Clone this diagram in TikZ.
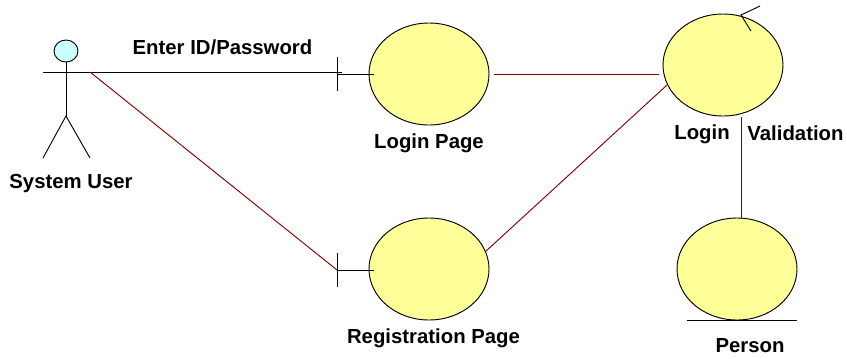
\documentclass[tikz,border=0pt]{standalone}
\usepackage{fontspec}
\setmainfont{Liberation Sans}
\usetikzlibrary{shapes.geometric}
\definecolor{boxyellow}{RGB}{255,255,153}
\definecolor{headcyan}{RGB}{204,255,255}
\definecolor{linkred}{RGB}{128,0,0}
\begin{document}
\begin{tikzpicture}[x=0.75pt,y=-0.75pt,line width=0.7pt,font=\bfseries\fontsize{15.25}{18}\selectfont,
  bubble/.style={draw,ellipse,fill=boxyellow,inner sep=0pt,minimum width=90pt,minimum height=76.5pt},
  link/.style={draw=linkred},
  lbl/.style={inner sep=0pt}]
\useasboundingbox (0,0) rectangle (847,358);

\coordinate (Neck) at (66,62);
\coordinate (Hip) at (66,116);
\coordinate (ArmL) at (43,72);
\coordinate (ArmR) at (90,72);
\coordinate (FootL) at (43,158);
\coordinate (FootR) at (90,158);
\coordinate (LoginEnd) at (342,72);
\coordinate (LoginT) at (337,74);
\coordinate (LoginTa) at (337,57);
\coordinate (LoginTb) at (337,91);
\coordinate (LoginIn) at (374,74);
\coordinate (RegT) at (337,270);
\coordinate (RegTa) at (337,253);
\coordinate (RegTb) at (337,287);
\coordinate (RegIn) at (374,270);
\coordinate (LoginOut) at (494,74);
\coordinate (ValIn) at (659,74);
\coordinate (ValIn2) at (667,85);
\coordinate (RegOut) at (485,252);
\coordinate (ValOut) at (741,117);
\coordinate (PersonIn) at (741,218);
\coordinate (LineA) at (687,320);
\coordinate (LineB) at (797,320);
\coordinate (Tip) at (741,15);
\coordinate (TipA) at (760,6);
\coordinate (TipB) at (751,31);

\node[draw,ellipse,fill=headcyan,inner sep=0pt,minimum width=18pt,minimum height=16.5pt] (Head) at (66,51) {};
\node[bubble] (LoginPage) at (429,74) {};
\node[bubble] (RegPage) at (429,269) {};
\node[bubble] (Validation) at (723,65) {};
\node[bubble] (Person) at (737,269) {};

\draw (Head) -- (Hip);
\draw (ArmL) -- (ArmR);
\draw (FootL) -- (Hip) -- (FootR);

\draw (ArmR) -- (LoginEnd);
\draw[link] (ArmR) -- (RegT);
\draw (LoginTa) -- (LoginTb);
\draw (LoginT) -- (LoginIn);
\draw (RegTa) -- (RegTb);
\draw (RegT) -- (RegIn);
\draw[link] (LoginOut) -- (ValIn);
\draw[link] (RegOut) -- (ValIn2);
\draw[link] (ValOut) -- (PersonIn);
\draw (LineA) -- (LineB);
\draw (TipA) -- (Tip) -- (TipB);

\node[lbl] (EnterLbl) at (222.5,47.5) {Enter ID/Password};
\node[lbl] (UserLbl) at (71,184) {System User};
\node[lbl] (LoginLbl) at (429,143) {Login Page};
\node[lbl] (RegLbl) at (433.5,338) {Registration Page};
\node[lbl] (ValLbl) at (702,134) {Login};
\node[lbl] (ValLblb) at (795.5,133) {Validation};
\node[lbl] (PersonLbl) at (750,346) {Person};

\end{tikzpicture}
\end{document}
